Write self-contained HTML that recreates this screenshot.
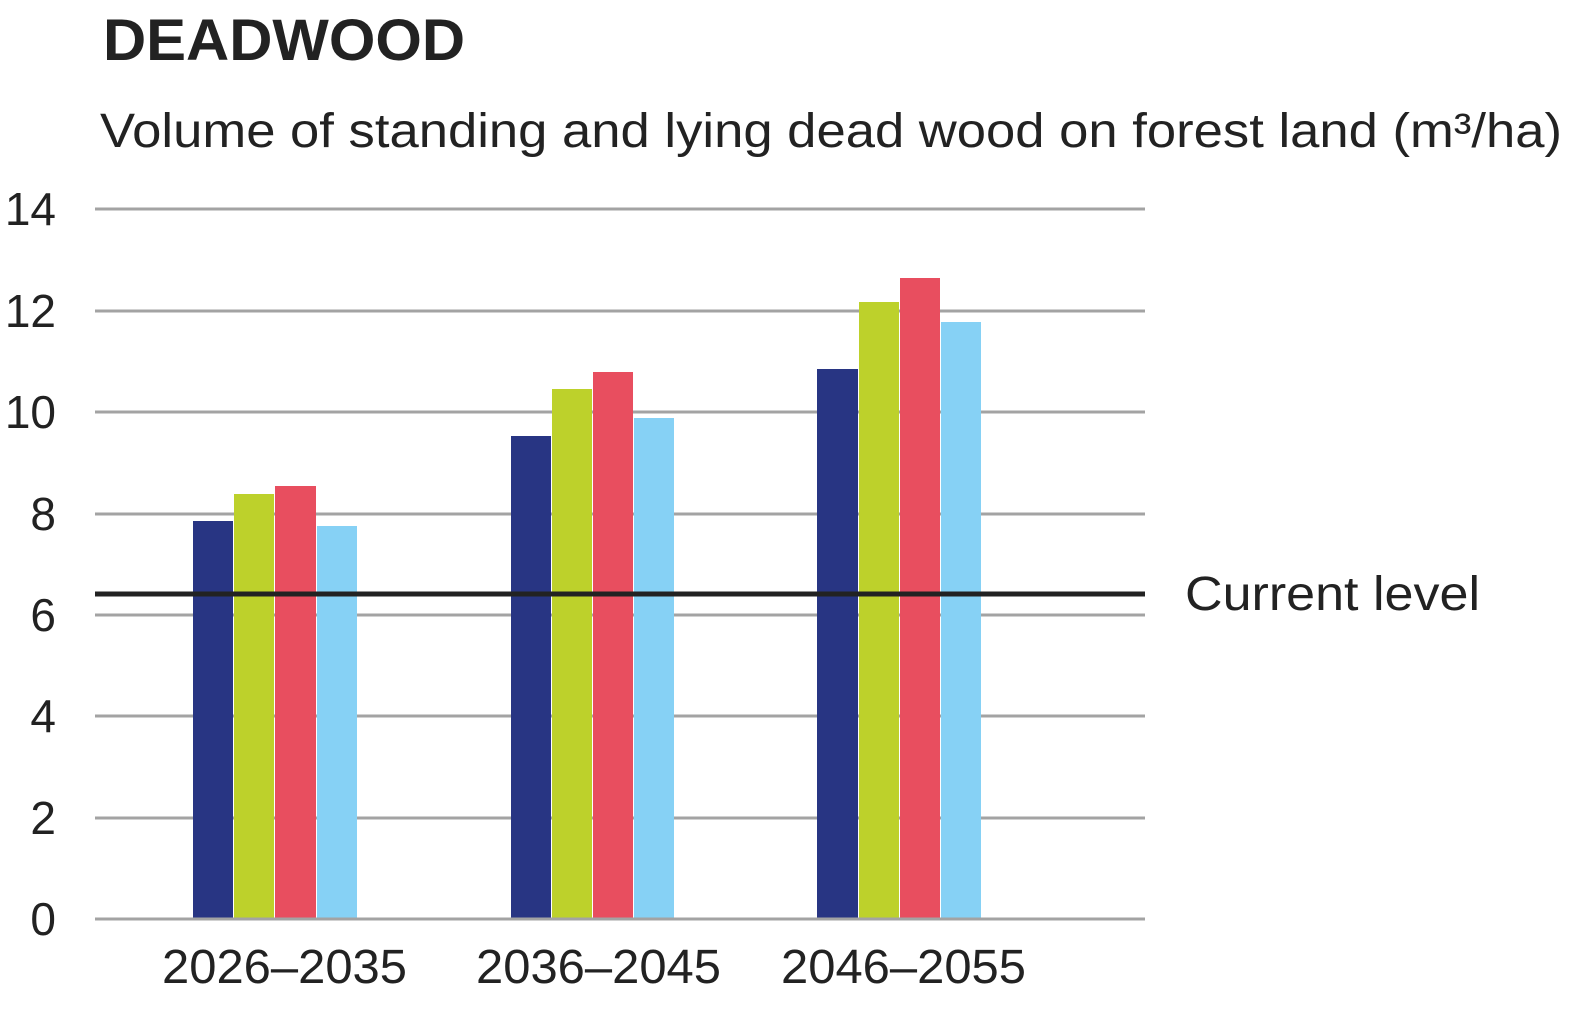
<!DOCTYPE html>
<html><head><style>body{margin:0;background:#fff}</style></head><body>
<svg width="1578" height="1011" xmlns="http://www.w3.org/2000/svg" style="display:block;font-family:'Liberation Sans',sans-serif;fill:#222">
<text x="103" y="60" font-size="58" font-weight="bold" textLength="362" lengthAdjust="spacingAndGlyphs">DEADWOOD</text>
<text x="100" y="147" font-size="48" textLength="1462" lengthAdjust="spacingAndGlyphs">Volume of standing and lying dead wood on forest land (m³/ha)</text>
<g stroke="#a3a3a3" stroke-width="3">
<line x1="95" x2="1145" y1="209" y2="209"/><line x1="95" x2="1145" y1="311" y2="311"/>
<line x1="95" x2="1145" y1="412" y2="412"/><line x1="95" x2="1145" y1="514" y2="514"/>
<line x1="95" x2="1145" y1="615" y2="615"/><line x1="95" x2="1145" y1="716" y2="716"/>
<line x1="95" x2="1145" y1="818" y2="818"/>
</g>
<g font-size="46" text-anchor="end">
<text x="56" y="225">14</text><text x="56" y="327">12</text><text x="56" y="428">10</text>
<text x="56" y="530">8</text><text x="56" y="631">6</text><text x="56" y="732">4</text>
<text x="56" y="834">2</text><text x="56" y="935">0</text>
</g>
<rect x="193" y="521" width="40" height="398" fill="#283583"/>
<rect x="234" y="494" width="40" height="425" fill="#bdd12b"/>
<rect x="275" y="486" width="41" height="433" fill="#e84e5f"/>
<rect x="317" y="526" width="40" height="393" fill="#86d1f5"/>
<rect x="511" y="436" width="40" height="483" fill="#283583"/>
<rect x="552" y="389" width="40" height="530" fill="#bdd12b"/>
<rect x="593" y="372" width="40" height="547" fill="#e84e5f"/>
<rect x="634" y="418" width="40" height="501" fill="#86d1f5"/>
<rect x="817" y="369" width="41" height="550" fill="#283583"/>
<rect x="859" y="302" width="40" height="617" fill="#bdd12b"/>
<rect x="900" y="278" width="40" height="641" fill="#e84e5f"/>
<rect x="941" y="322" width="40" height="597" fill="#86d1f5"/>
<line x1="95" x2="1145" y1="919" y2="919" stroke="#a3a3a3" stroke-width="3"/>
<line x1="95" x2="1145" y1="594" y2="594" stroke="#222" stroke-width="5"/>
<text x="1185" y="610" font-size="48" textLength="295" lengthAdjust="spacingAndGlyphs">Current level</text>
<g font-size="48">
<text x="162" y="983" textLength="245" lengthAdjust="spacingAndGlyphs">2026–2035</text>
<text x="476" y="983" textLength="245" lengthAdjust="spacingAndGlyphs">2036–2045</text>
<text x="781" y="983" textLength="245" lengthAdjust="spacingAndGlyphs">2046–2055</text>
</g>
</svg>
</body></html>
